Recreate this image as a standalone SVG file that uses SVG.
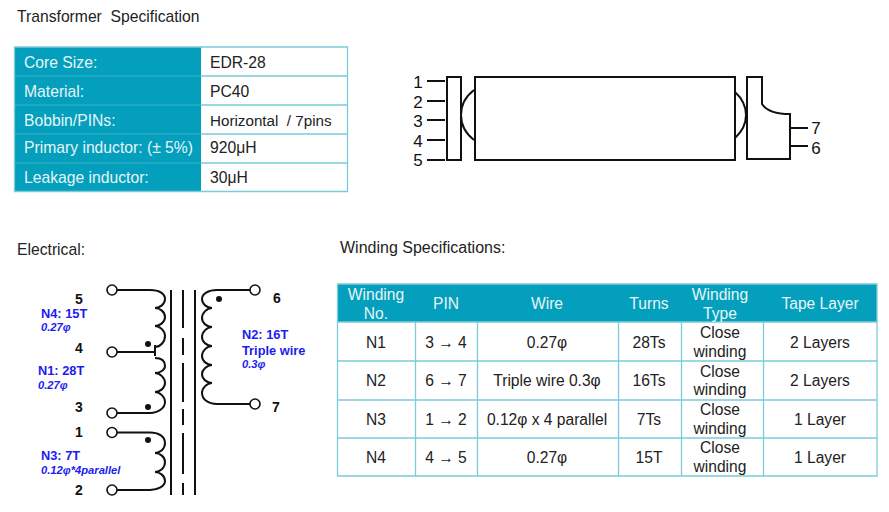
<svg xmlns="http://www.w3.org/2000/svg" width="889" height="512" viewBox="0 0 889 512">
<style>
text{font-family:"Liberation Sans",Arial,sans-serif;fill:#222}
.t{font-size:15.7px;white-space:pre}
.c{font-size:15.6px;text-anchor:middle}
.h{fill:#e6f5f8}
.head{fill:#039fbc}
.grid{stroke:#7ccbda;stroke-width:1.3;fill:none}
.gridd{stroke:#3fb3c9;stroke-width:1.2;fill:none}
.k{fill:none;stroke:#111;stroke-width:2}
.w{fill:none;stroke:#111;stroke-width:2}
.o{fill:#fff;stroke:#111;stroke-width:1.6}
.p{font-size:14px;font-weight:bold;fill:#111;text-anchor:middle}
.b{font-size:12.8px;font-weight:bold;fill:#1c1cf0}
.i{font-size:11.2px;font-weight:bold;font-style:italic;fill:#1c1cf0}
.n{font-size:17px;fill:#111;text-anchor:middle}
</style>
<rect width="889" height="512" fill="#fff"/>
<text id="title-transformer" class="t" x="17" y="21.500">Transformer  Specification</text>
<text id="title-electrical" class="t" x="17" y="255">Electrical:</text>
<text id="title-winding" class="t" x="340" y="253" style="font-size:16px">Winding Specifications:</text>

<g id="core-table">
<rect class="head" x="14.500" y="47" width="186.500" height="144.500"/>
<path class="gridd" d="M14.500 76H201M14.500 105H201M14.500 134H201M14.500 163H201"/>
<path class="grid" d="M14.500 47H347.500V191.500H14.500ZM201 76H347.500M201 105H347.500M201 134H347.500M201 163H347.500"/>
<text class="t h" x="24" y="67.500">Core Size:</text>
<text class="t h" x="24" y="96.500">Material:</text>
<text class="t h" x="24" y="125.500">Bobbin/PINs:</text>
<text class="t h" x="24" y="153">Primary inductor: (± 5%)</text>
<text class="t h" x="24" y="183">Leakage inductor:</text>
<text class="t" x="210" y="67.500">EDR-28</text>
<text class="t" x="210" y="96.500">PC40</text>
<text class="t" x="210" y="125.500" style="font-size:15.2px">Horizontal  / 7pins</text>
<text class="t" x="210" y="153">920μH</text>
<text class="t" x="210" y="183">30μH</text>
</g>

<g id="bobbin">
<rect class="k" x="447" y="77" width="14" height="83"/>
<rect class="k" x="475" y="77" width="260" height="83"/>
<path class="k" d="M474 90Q461 100 461 115Q461 130 474 140M735 92Q746 102 746 115Q746 128 735 138"/>
<path class="k" d="M747 77H762V104C766 110 776 114 790 114V159H747ZM790 128H808M790 146H808"/>
<path class="k" d="M427 81H445M427 101H445M427 120H445M427 140H445M427 160H445"/>
<text class="n" x="418" y="88">1</text>
<text class="n" x="418" y="107.500">2</text>
<text class="n" x="418" y="127">3</text>
<text class="n" x="418" y="146.500">4</text>
<text class="n" x="418" y="166">5</text>
<text class="n" x="816" y="134">7</text>
<text class="n" x="816" y="153.500">6</text>
</g>

<g id="schematic">
<g id="core">
<path class="w" d="M171 290V495M195 290V495"/>
<path class="w" d="M183 290V328M183 338V355M183 363V402M183 409V425M183 433V474M183 483V495"/>
</g>
<g id="connectors">
<path class="w" d="M117 290H150C160 290 165 294 165 299C165 304 160 308 155 308C160 308 165 312 165 317C165 322 160 326 155 326C160 326 165 331 165 336C165 342 160 347 155 347"/>
<path class="w" d="M117 352H155M155 345V356M155 358C160 358 165 360 165 366C165 370 160 373 155 373C160 373 165 378 165 383C165 388 160 392 155 392C160 392 165 397 165 402C165 408 158 413 150 413H117"/>
<path class="w" d="M117 432.500H150C158 432.500 165 436 165 443C165 449 160 453 155 453C160 453 165 457 165 462C165 468 160 472 155 472C160 472 165 476 165 481C165 486 158 490 150 490H117"/>
<path class="w" d="M250 290H217C208 290 202 294 202 299C202 304 207 308 212 308C207 308 202 313 202 318C202 323 207 327 212 327C207 327 202 332 202 337C202 342 207 346 212 346C207 346 202 351 202 356C202 361 207 365 212 365C207 365 202 370 202 374C202 379 207 383 212 383C207 383 202 388 202 393C202 399 208 404 217 404H250"/>
</g>
<circle class="o" cx="112" cy="290" r="5"/>
<circle class="o" cx="112" cy="352" r="5"/>
<circle class="o" cx="112" cy="413" r="5"/>
<circle class="o" cx="112" cy="432.500" r="5"/>
<circle class="o" cx="112" cy="490" r="5"/>
<circle class="o" cx="255" cy="290" r="5"/>
<circle class="o" cx="255" cy="404" r="5"/>
<circle cx="148" cy="344" r="3" fill="#111"/>
<circle cx="148" cy="407" r="3" fill="#111"/>
<circle cx="148" cy="440" r="3" fill="#111"/>
<circle cx="219" cy="299" r="3" fill="#111"/>
<text class="p" x="79" y="304">5</text>
<text class="p" x="79" y="353">4</text>
<text class="p" x="79" y="412">3</text>
<text class="p" x="79" y="437">1</text>
<text class="p" x="79" y="495">2</text>
<text class="p" x="277" y="303">6</text>
<text class="p" x="276" y="412">7</text>
<text class="b" x="41" y="318">N4: 15T</text>
<text class="i" x="41" y="331">0.27φ</text>
<text class="b" x="38" y="375">N1: 28T</text>
<text class="i" x="38" y="389">0.27φ</text>
<text class="b" x="41" y="460">N3: 7T</text>
<text class="i" x="41" y="474">0.12φ*4parallel</text>
<text class="b" x="242" y="339">N2: 16T</text>
<text class="b" x="242" y="355">Triple wire</text>
<text class="i" x="242" y="368">0.3φ</text>
</g>

<g id="winding-table">
<rect class="head" x="337.500" y="284" width="539.500" height="38"/>
<path class="grid" d="M337.500 284H877V476H337.500ZM337.500 322H877M337.500 361H877M337.500 400H877M337.500 438H877"/>
<path class="grid" d="M415.500 322V476M477.500 322V476M618.500 322V476M681.500 322V476M763.500 322V476"/>
<text class="c h" x="376" y="299.500">Winding</text>
<text class="c h" x="376" y="318.500">No.</text>
<text class="c h" x="446" y="308.500">PIN</text>
<text class="c h" x="547" y="308.500">Wire</text>
<text class="c h" x="649" y="308.500">Turns</text>
<text class="c h" x="720" y="299.500">Winding</text>
<text class="c h" x="720" y="318.500">Type</text>
<text class="c h" x="820" y="308.500">Tape Layer</text>
<text class="c" x="376" y="347.500">N1</text>
<text class="c" x="446" y="347.500">3 → 4</text>
<text class="c" x="547" y="347.500">0.27φ</text>
<text class="c" x="649" y="347.500">28Ts</text>
<text class="c" x="720" y="338">Close</text>
<text class="c" x="720" y="356.500">winding</text>
<text class="c" x="820" y="347.500">2 Layers</text>
<text class="c" x="376" y="386">N2</text>
<text class="c" x="446" y="386">6 → 7</text>
<text class="c" x="547" y="386">Triple wire 0.3φ</text>
<text class="c" x="649" y="386">16Ts</text>
<text class="c" x="720" y="376.500">Close</text>
<text class="c" x="720" y="395">winding</text>
<text class="c" x="820" y="386">2 Layers</text>
<text class="c" x="376" y="425">N3</text>
<text class="c" x="446" y="425">1 → 2</text>
<text class="c" x="547" y="425">0.12φ x 4 parallel</text>
<text class="c" x="649" y="425">7Ts</text>
<text class="c" x="720" y="415">Close</text>
<text class="c" x="720" y="433.500">winding</text>
<text class="c" x="820" y="425">1 Layer</text>
<text class="c" x="376" y="463">N4</text>
<text class="c" x="446" y="463">4 → 5</text>
<text class="c" x="547" y="463">0.27φ</text>
<text class="c" x="649" y="463">15T</text>
<text class="c" x="720" y="453">Close</text>
<text class="c" x="720" y="471.500">winding</text>
<text class="c" x="820" y="463">1 Layer</text>
</g>
</svg>
